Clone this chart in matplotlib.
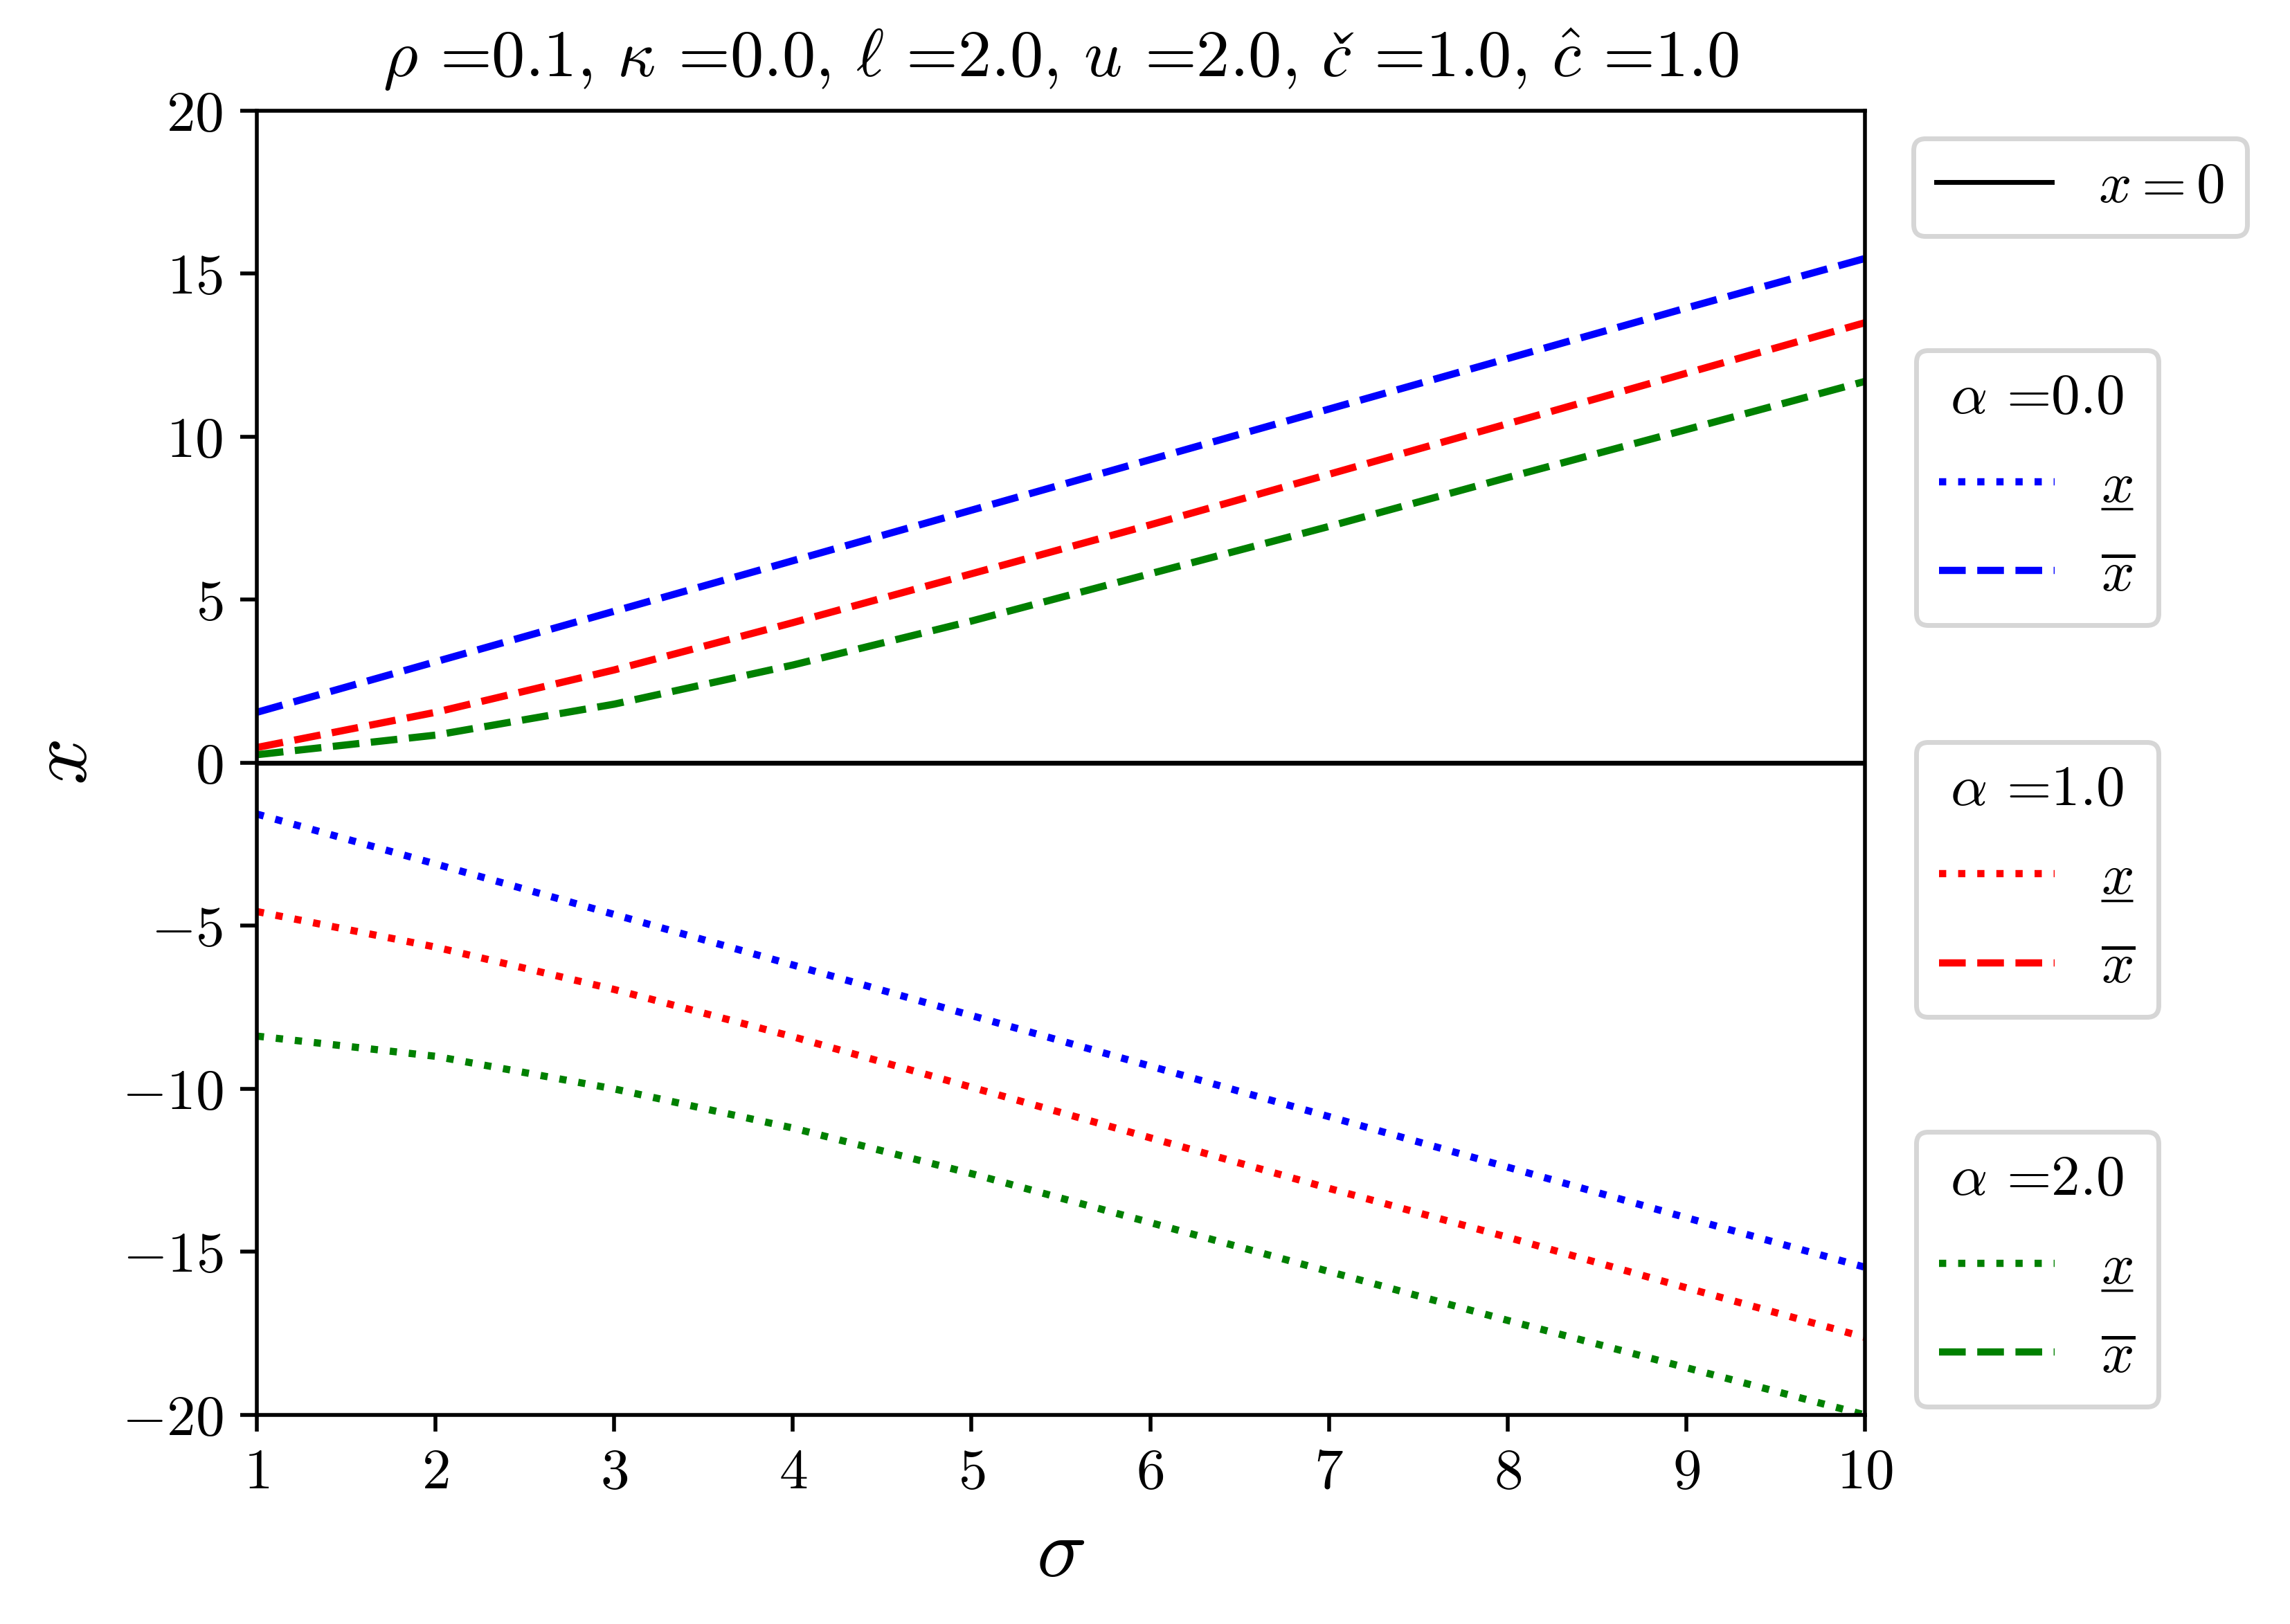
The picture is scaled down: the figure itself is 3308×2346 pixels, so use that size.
import matplotlib
matplotlib.use('Agg')
import matplotlib.pyplot as plt
from matplotlib.lines import Line2D

plt.rcParams['font.family'] = 'serif'
plt.rcParams['font.serif'] = ['cmr10']
plt.rcParams['mathtext.fontset'] = 'cm'
plt.rcParams['axes.formatter.use_mathtext'] = True
plt.rcParams['font.size'] = 12

sigma = [1, 2, 3, 4, 5, 6, 7, 8, 9, 10]
alphas = [0.0, 1.0, 2.0]
colors = ['blue', 'red', 'green']

# lower threshold (dotted) and upper threshold (dashed) for each alpha
x_low_a0 = [-1.57, -3.10, -4.65, -6.20, -7.75, -9.30, -10.85, -12.40, -13.95, -15.47]
x_high_a0 = [1.55, 3.10, 4.65, 6.20, 7.75, 9.30, 10.85, 12.40, 13.95, 15.47]
x_low_a1 = [-4.56, -5.65, -6.95, -8.40, -9.95, -11.50, -13.05, -14.55, -16.10, -17.62]
x_high_a1 = [0.47, 1.55, 2.85, 4.30, 5.80, 7.30, 8.85, 10.40, 11.95, 13.50]
x_low_a2 = [-8.38, -9.00, -10.00, -11.20, -12.60, -14.10, -15.60, -17.10, -18.55, -20.00]
x_high_a2 = [0.25, 0.85, 1.80, 3.00, 4.35, 5.80, 7.25, 8.75, 10.22, 11.70]

x_low = [x_low_a0, x_low_a1, x_low_a2]
x_high = [x_high_a0, x_high_a1, x_high_a2]

title = (r'$\rho$ =0.1, $\kappa$ =0.0, $\ell$ =2.0, $u$ =2.0, '
         r'$č$ =1.0, $\hat{c}$ =1.0')

fig = plt.figure(figsize=(3308 / 500, 2346 / 500), dpi=500)
ax = fig.add_axes([0.11215, 0.12873, 0.70224, 0.80307])

zero = ax.axhline(0, color='k', linewidth=1, label=r'$x=0$')

groups = []
for a, c, lo, hi in zip(alphas, colors, x_low, x_high):
    # mathtext has no \underline, the bar is added after drawing
    l1, = ax.plot(sigma, lo, ':', color=c, linewidth=1.5, label=r'$x$')
    l2, = ax.plot(sigma, hi, '--', color=c, linewidth=1.5, label=r'$\overline{x}$')
    groups.append((a, [l1, l2]))

ax.set_xlim(1, 10)
ax.set_ylim(-20, 20)
ax.set_xticks(range(1, 11))
ax.set_yticks(range(-20, 21, 5))
ax.set_xlabel(r'$\sigma$', fontsize='x-large')
ax.set_ylabel(r'$x$', fontsize='x-large')
ax.set_title(title, fontsize=13.9, pad=7)

fig.legend(handles=[zero], loc='upper left', bbox_to_anchor=(0.8356, 0.9147),
           borderaxespad=0)
anchors = [0.7843, 0.5430, 0.3031]
alpha_legends = []
for (a, lines), y in zip(groups, anchors):
    leg = fig.legend(handles=lines, title=r'$\alpha$ =%.1f' % a, loc='upper left',
                     bbox_to_anchor=(0.8368, y), borderaxespad=0,
                     labelspacing=0.65)
    alpha_legends.append(leg)

fig.canvas.draw()
renderer = fig.canvas.get_renderer()
inv = fig.transFigure.inverted()
for leg in alpha_legends:
    txt = leg.get_texts()[0]
    bb = txt.get_window_extent(renderer)
    lp_d = renderer.get_text_width_height_descent('lp', txt.get_fontproperties(), ismath=False)[2]
    base = bb.y0 + lp_d
    (x0, y0), (x1, _) = inv.transform([[bb.x0, base - 9.5], [bb.x1, base]])
    fig.add_artist(Line2D([x0, x1], [y0, y0], color='k', linewidth=0.5,
                          solid_capstyle='butt', transform=fig.transFigure, zorder=10))

fig.savefig('out.png', dpi=500)
